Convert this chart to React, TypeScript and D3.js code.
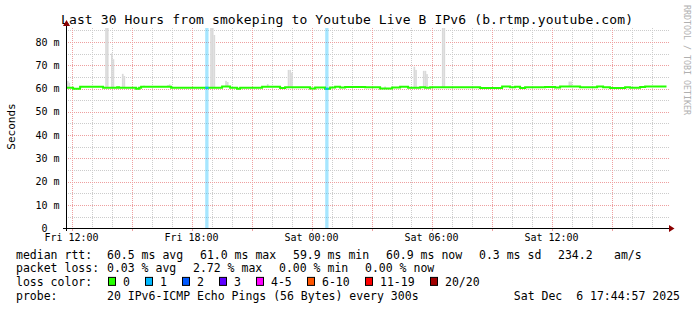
import React from 'react';
import * as d3 from 'd3';

const W = 697;
const H = 310;

const titleText = 'Last 30 Hours from smokeping to Youtube Live B IPv6 (b.rtmp.youtube.com)';
const yAxisTitle = 'Seconds';
const sideText = 'RRDTOOL / TOBI OETIKER';

const yTickValues = [0, 10, 20, 30, 40, 50, 60, 70, 80];
const yTickLabels = ['0  ', '10 m', '20 m', '30 m', '40 m', '50 m', '60 m', '70 m', '80 m'];
const yMinorValues = [5, 15, 25, 35, 45, 55, 65, 75, 85];

// hours relative to Fri 12:00
const xTickHours = [0, 6, 12, 18, 24];
const xTickLabels = ['Fri 12:00', 'Fri 18:00', 'Sat 00:00', 'Sat 06:00', 'Sat 12:00'];

// median rtt (ms) as step changes: start hour, value
const medianHours = [
  -0.25, 0.08, 0.43, 1.58, 2.28, 2.38, 3.23, 3.38, 3.48, 4.98, 7.53, 7.93, 8.28, 8.43, 9.53,
  10.43, 10.68, 11.93, 12.18, 12.68, 12.93, 13.18, 13.43, 13.68, 14.68, 15.43, 16.03, 16.43,
  16.83, 17.43, 17.68, 17.93, 19.68, 20.43, 21.53, 21.93, 22.18, 22.43, 22.68, 23.68, 24.18,
  24.43, 25.43, 25.68, 26.28, 26.58, 26.93, 27.68, 27.93, 28.43, 28.68,
];
const medianValues = [
  60.3, 59.9, 60.8, 60.3, 60.6, 60.3, 59.9, 60.3, 60.8, 60.3, 60.9, 60.3, 59.9, 60.3, 60.8,
  60.2, 60.5, 60.0, 60.4, 59.9, 60.4, 60.8, 60.4, 60.7, 60.5, 60.0, 60.4, 60.8,
  60.3, 60.6, 60.3, 60.6, 60.5, 60.2, 60.9, 60.6, 60.8, 60.2, 60.5, 60.7, 60.4,
  60.9, 60.5, 60.6, 60.9, 60.6, 60.2, 60.6, 60.3, 60.7, 60.9,
];
const endHour = 29.75;
const startHour = -0.25;

// smoke (slowest ping) per 5 min step: start hour, top value (ms)
const smokeHours = [
  -0.23, -0.15, 1.685, 1.77, 1.975, 2.055, 2.52, 2.6, 3.585, 4.785, 4.87, 6.935, 7.02, 7.1,
  7.685, 7.77, 9.77, 10.81, 10.895, 10.98, 15.64, 17.1, 17.185, 17.57, 17.655, 17.735,
  18.52, 18.6, 24.85, 24.935,
];
const smokeTops = [
  63.3, 62.5, 95, 95, 75.1, 72.6, 66.3, 65.4, 61.3, 61.5, 61.8, 95, 95, 83,
  63.3, 62.8, 61.9, 68, 68, 66.8, 60.9, 69.4, 68, 67.6, 67.6, 66.2,
  95, 95, 63, 63,
];

// packet loss events: start hour, lost pings
const lossHours = [6.685, 12.685];
const lossCounts = [1, 1];

const rttStats = ['60.5 ms avg', '61.0 ms max', '59.9 ms min', '60.9 ms now', '0.3 ms sd', '234.2', 'am/s'];
const lossStats = ['0.03 % avg', '2.72 % max', '0.00 % min', '0.00 % now'];
const lossLegendLabels = ['0', '1', '2', '3', '4-5', '6-10', '11-19', '20/20'];
const lossLegendColors = ['#26ff00', '#00b8ff', '#0059ff', '#5e00ff', '#ff00ff', '#ff5500', '#ff0000', '#a10000'];
const lossLegendMax = [0, 1, 2, 3, 5, 10, 19, 20];
const probeText = '20 IPv6-ICMP Echo Pings (56 Bytes) every 300s';
const dateText = 'Sat Dec  6 17:44:57 2025';

const MONO = '"DejaVu Sans Mono", monospace';

function lossColor(n: number) {
  for (let i = 0; i < lossLegendMax.length; i++) if (n <= lossLegendMax[i]) return lossLegendColors[i];
  return lossLegendColors[lossLegendColors.length - 1];
}

export default function App() {
  const x = d3.scaleLinear().domain([startHour, endHour]).range([66.5, 666.5]);
  const y = d3.scaleLinear().domain([0, 86]).range([228.2, 28]).clamp(true);
  const step = 5 / 60;
  const stepW = x(step) - x(0);

  const medianPts: [number, number][] = medianHours.map((h, i) => [h, medianValues[i]]);
  medianPts.push([endHour, medianValues[medianValues.length - 1]]);
  const line = d3
    .line<[number, number]>()
    .x((d) => x(d[0]))
    .y((d) => y(d[1]))
    .curve(d3.curveStepAfter);

  const medianAt = (h: number) => {
    const idx = d3.bisectRight(medianHours, h) - 1;
    return medianValues[Math.max(0, idx)];
  };

  const hourGrid = d3.range(0, 30).filter((h) => h % 3 !== 0);
  const majorGrid = d3.range(0, 30, 3);
  const px = (v: number) => Math.round(v) + 0.5;

  const rowY = [258.5, 272.2, 285.9, 299.6];
  const rttX = [107, 200, 293, 386, 479, 558, 614];
  const lossX = [107, 193, 279, 365];

  // loss legend layout
  let lx = 108;
  const legendItems = lossLegendLabels.map((lab, i) => {
    const item = { x: lx, lab, color: lossLegendColors[i] };
    lx += 15 + lab.length * 7 + 15;
    return item;
  });

  return (
    <svg
      width={W}
      height={H}
      style={{ position: 'absolute', left: 0, top: 0, background: '#fff' }}
      fontFamily={MONO}
    >
      <rect x={0} y={0} width={W} height={H} fill="#fff" />
      {/* title */}
      <text x={61} y={23.5} fontSize={13} fill="#000" textLength={572} lengthAdjust="spacing">
        {titleText}
      </text>
      {/* side text */}
      <text transform={`translate(683.5,5) rotate(90)`} fontSize={8.3} fill="#b0b0b0">
        {sideText}
      </text>
      {/* y axis title */}
      <text transform={`translate(15,126.5) rotate(-90)`} fontSize={11} textAnchor="middle" fill="#000">
        {yAxisTitle}
      </text>

      {/* minor grid */}
      <g stroke="#cccccc" strokeWidth={1} strokeDasharray="1 1" fill="none">
        {hourGrid.map((h) => (
          <line key={'vh' + h} x1={px(x(h))} x2={px(x(h))} y1={28} y2={228} />
        ))}
        {yMinorValues.map((v) => (
          <line key={'hm' + v} x1={66} x2={669} y1={px(y(v))} y2={px(y(v))} />
        ))}
      </g>
      {/* major grid */}
      <g stroke="#eea0a0" strokeWidth={1} strokeDasharray="1 1" fill="none">
        {majorGrid.map((h) => (
          <line key={'vM' + h} x1={px(x(h))} x2={px(x(h))} y1={28} y2={228} />
        ))}
        {yTickValues.filter((v) => v > 0).map((v) => (
          <line key={'hM' + v} x1={66} x2={669} y1={px(y(v))} y2={px(y(v))} />
        ))}
      </g>

      {/* loss bars */}
      {lossHours.map((h, i) => (
        <rect
          key={'loss' + i}
          x={x(h)}
          y={y(86)}
          width={stepW * 2}
          height={y(0) - y(86)}
          fill={lossColor(lossCounts[i])}
          fillOpacity={0.35}
        />
      ))}

      {/* smoke */}
      {smokeHours.map((h, i) => (
        <rect
          key={'sm' + i}
          x={x(h)}
          y={y(smokeTops[i])}
          width={stepW}
          height={Math.max(0, y(medianAt(h)) - y(smokeTops[i]))}
          fill="#d9d9d9"
        />
      ))}

      {/* median line */}
      <path d={line(medianPts) || ''} fill="none" stroke="#26ff00" strokeWidth={2} />
      {lossHours.map((h, i) => (
        <line
          key={'ll' + i}
          x1={x(h)}
          x2={x(h) + stepW * 2}
          y1={y(medianAt(h))}
          y2={y(medianAt(h))}
          stroke={lossColor(lossCounts[i])}
          strokeWidth={2}
        />
      ))}

      {/* axes */}
      <line x1={63} x2={669} y1={228.5} y2={228.5} stroke="#000" strokeWidth={1} />
      <line x1={66.5} x2={66.5} y1={231} y2={25} stroke="#000" strokeWidth={1} />
      <path d="M669,225 L674.5,228.5 L669,232 Z" fill="#8b0000" />
      <path d="M63,26 L66.5,20 L70,26 Z" fill="#8b0000" />
      {majorGrid.map((h) => (
        <line key={'xt' + h} x1={px(x(h))} x2={px(x(h))} y1={229} y2={231} stroke="#eea0a0" />
      ))}

      {/* tick labels */}
      {yTickValues.map((v, i) => (
        <text
          key={'yl' + v}
          x={59.5}
          y={y(v) + 3.6}
          fontSize={10}
          textAnchor="end"
          xmlSpace="preserve"
          fill="#000"
        >
          {yTickLabels[i]}
        </text>
      ))}
      {xTickHours.map((h, i) => (
        <text key={'xl' + h} x={x(h)} y={241} fontSize={10} textAnchor="middle" fill="#000">
          {xTickLabels[i]}
        </text>
      ))}

      {/* legend */}
      <g fontSize={11.5} fill="#000">
        <text x={16} y={rowY[0]}>median rtt:</text>
        {rttStats.map((s, i) => (
          <text key={'r' + i} x={rttX[i]} y={rowY[0]}>{s}</text>
        ))}
        <text x={16} y={rowY[1]}>packet loss:</text>
        {lossStats.map((s, i) => (
          <text key={'p' + i} x={lossX[i]} y={rowY[1]}>{s}</text>
        ))}
        <text x={16} y={rowY[2]}>loss color:</text>
        {legendItems.map((it, i) => (
          <g key={'lg' + i}>
            <rect x={it.x + 0.5} y={rowY[2] - 8.5} width={7} height={8} fill={it.color} stroke="#000" strokeWidth={1} />
            <text x={it.x + 15} y={rowY[2]}>{it.lab}</text>
          </g>
        ))}
        <text x={16} y={rowY[3]}>probe:</text>
        <text x={107} y={rowY[3]}>{probeText}</text>
        <text x={680} y={rowY[3]} textAnchor="end" xmlSpace="preserve">{dateText}</text>
      </g>
    </svg>
  );
}
